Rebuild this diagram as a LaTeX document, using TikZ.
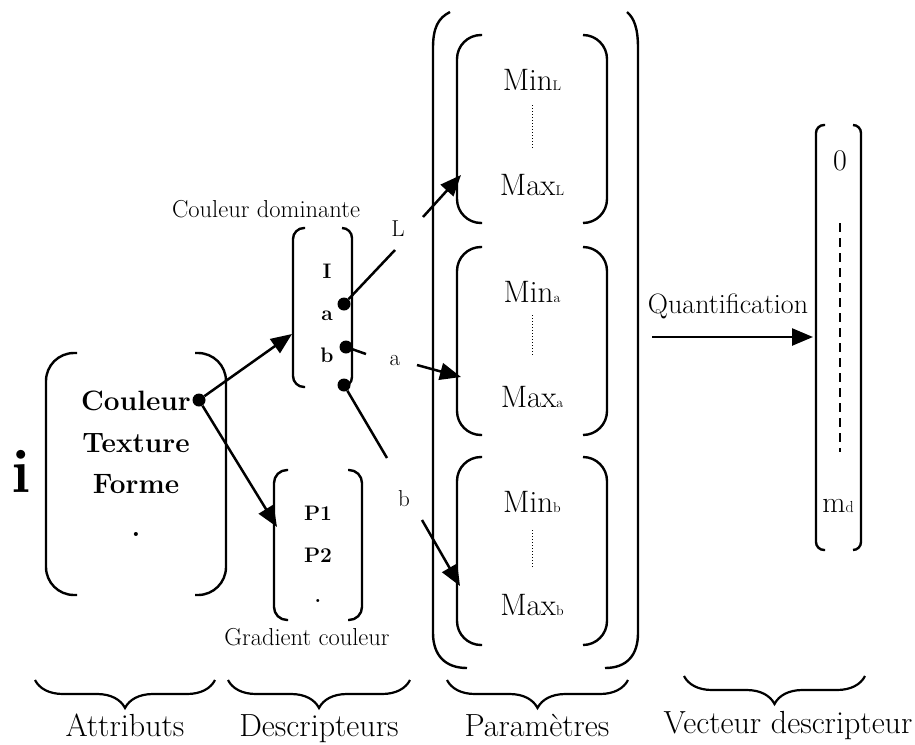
\documentclass[tikz,border=0pt]{standalone}
\usepackage{fontspec}
\usetikzlibrary{arrows.meta,decorations.pathreplacing}
\newcommand\myfs[1]{\fontsize{#1}{#1}\selectfont}
\begin{document}
\begin{tikzpicture}[x=1pt,y=-1pt,
  brk/.style={line width=2.4pt, rounded corners=#1},
  brk/.default=10,
  conn/.style={line width=2.5pt},
  arr/.style={conn,-{Triangle[length=21pt,width=17pt]}},
  dotn/.style={circle,fill=black,inner sep=0pt,minimum size=13pt},
  txt/.style={inner sep=0pt,anchor=base},
  ubrace/.style={line width=2.2pt,decorate,decoration={brace,mirror,amplitude=28pt}},
  big/.style={txt,font=\bfseries\myfs{28}},
  smallb/.style={txt,font=\bfseries\myfs{21}},
  lab/.style={txt,font=\myfs{23}},
  captxt/.style={txt,font=\myfs{24.5}},
  mm/.style={txt,font=\myfs{31}},
  bot/.style={txt,font=\myfs{32}}
]
\useasboundingbox (0,0) rectangle (915,744);

% ---- i and attributes ----
\node[txt,font=\bfseries\myfs{62}] (i) at (21,492) {i};
\draw[brk=28] (77,353) -- (46,353) -- (46,595) -- (77,595);
\draw[brk=28] (195,353) -- (226,353) -- (226,595) -- (195,595);
\node[big] (coul) at (136,410) {Couleur};
\node[big] (text) at (136,452) {Texture};
\node[big] (forme) at (136,493) {Forme};
\node[big] (dot1) at (136,536) {.};
\node[dotn] (dc) at (199,400) {};

% ---- Couleur dominante ----
\node[captxt] (cdl) at (266,217) {Couleur dominante};
\draw[brk=11] (305,228) -- (293,228) -- (293,387) -- (305,387);
\draw[brk=10] (342,228) -- (352,228) -- (352,387) -- (342,387);
\node[smallb] (lL) at (327,278) {I};
\node[smallb] (la) at (327,320) {a};
\node[smallb] (lb) at (327,362) {b};
\node[dotn] (dL) at (344,304) {};
\node[dotn] (da) at (346,347) {};
\node[dotn] (db) at (344,385) {};

% ---- Gradient couleur ----
\draw[brk=13] (288,470) -- (274,470) -- (274,620) -- (288,620);
\draw[brk=13] (348,470) -- (362,470) -- (362,620) -- (348,620);
\node[smallb] (p1) at (318,520) {P1};
\node[smallb] (p2) at (318,562) {P2};
\node[smallb] (p3) at (318,602) {.};
\node[captxt] (gcl) at (307,645) {Gradient couleur};

% ---- connectors from Couleur ----
\coordinate (tCD) at (292,334);
\coordinate (tP) at (277,527);
\draw[arr] (dc) -- (tCD);
\draw[arr] (dc) -- (tP);

% ---- Parametres ----
\draw[line width=2.4pt] (450,12) .. controls (438,18) and (433,28) .. (433,48) -- (433,633)
   .. controls (433,655) and (445,668) .. (467,668);
\draw[line width=2.4pt] (627,12) .. controls (634,18) and (638,28) .. (638,48) -- (638,633)
   .. controls (638,655) and (627,668) .. (605,668);
\foreach \t/\b in {35/223, 247/435, 457/645}{
  \draw[brk=24] (482,\t) -- (457,\t) -- (457,\b) -- (482,\b);
  \draw[brk=24] (583,\t) -- (607,\t) -- (607,\b) -- (583,\b);
}
\node[mm] (minL) at (532,90) {Min{\myfs{14}L}};
\node[mm] (maxL) at (532,195) {Max{\myfs{14}L}};
\node[mm] (mina) at (532,302) {Min{\myfs{14}a}};
\node[mm] (maxa) at (532,407) {Max{\myfs{14}a}};
\node[mm] (minb) at (532,512) {Min{\myfs{14}b}};
\node[mm] (maxb) at (532,615) {Max{\myfs{14}b}};
\draw[line width=1pt,dotted] (532,105) -- (532,148);
\draw[line width=1pt,dotted] (532,315) -- (532,355);
\draw[line width=1pt,dotted] (532,530) -- (532,568);

% ---- connectors L, a, b ----
\node[lab] (tL) at (398,236) {L};
\node[lab] (ta) at (395,365) {a};
\node[lab] (tb) at (404,506) {b};
\coordinate (eL1) at (395,250);
\coordinate (sL2) at (423,217);
\coordinate (hL) at (461,175);
\coordinate (ea1) at (366,354);
\coordinate (sa2) at (417,365);
\coordinate (ha) at (461,377);
\coordinate (eb1) at (387,458);
\coordinate (sb2) at (422,520);
\coordinate (hb) at (460,586);
\draw[conn] (dL) -- (eL1);
\draw[arr] (sL2) -- (hL);
\draw[conn] (da) -- (ea1);
\draw[arr] (sa2) -- (ha);
\draw[conn] (db) -- (eb1);
\draw[arr] (sb2) -- (hb);

% ---- Quantification ----
\node[txt,font=\myfs{28}] (q) at (728,313) {Quantification};
\coordinate (qs) at (652,337);
\coordinate (qe) at (813,337);
\draw[arr] (qs) -- (qe);

% ---- vecteur ----
\draw[brk=8] (825,125) -- (816,125) -- (816,550) -- (825,550);
\draw[brk=8] (853,125) -- (861,125) -- (861,550) -- (853,550);
\node[txt,font=\myfs{30}] (zero) at (840,170) {0};
\node[txt,font=\myfs{30}] (md) at (838,512) {m{\myfs{16}d}};
\draw[line width=1.8pt,dash pattern=on 9pt off 6pt] (840,223) -- (840,452);

% ---- braces and labels ----
\draw[ubrace] (35,680) -- (215,680);
\draw[ubrace] (228,680) -- (410,680);
\draw[ubrace] (447,680) -- (628,680);
\draw[ubrace] (684,676) -- (865,676);
\node[bot] (attr) at (125,736) {Attributs};
\node[bot] (desc) at (319,736) {Descripteurs};
\node[bot] (param) at (537,736) {Paramètres};
\node[bot] (vect) at (788,733) {Vecteur descripteur};
\end{tikzpicture}
\end{document}
